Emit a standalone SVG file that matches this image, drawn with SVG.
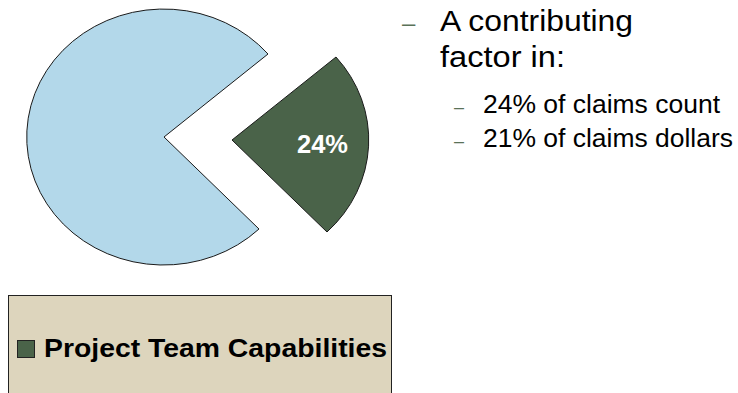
<svg xmlns="http://www.w3.org/2000/svg" width="738" height="393" viewBox="0 0 738 393">
<style>
.slice{stroke:#1a1a1a;stroke-width:1}
.t{font-family:"Liberation Sans",Arial,sans-serif;fill:#000}
.dash{font-family:"Liberation Sans",Arial,sans-serif;fill:#5a7258}
</style>
<rect width="738" height="393" fill="#fff"/>
<g id="pie">
<g id="slice-rest">
<path class="slice" d="M164,137 L268,54 A137,128 0 1,0 259,229 Z" fill="#B3D8EA"/>
</g>
<g id="slice-ptc">
<path class="slice" d="M232,140 L336,57 A137,128 0 0,1 327,232 Z" fill="#4A6349"/>
<text x="297" y="153" class="t" style="fill:#fff;font-weight:bold" font-size="25" textLength="51" lengthAdjust="spacingAndGlyphs">24%</text>
</g>
</g>
<g id="bullets">
<text x="402" y="31" class="dash" font-size="24">–</text>
<text x="440" y="31" class="t" font-size="30" textLength="193" lengthAdjust="spacingAndGlyphs">A contributing</text>
<text x="440" y="67" class="t" font-size="30" textLength="125" lengthAdjust="spacingAndGlyphs">factor in:</text>
<text x="454" y="113" class="dash" font-size="18">–</text>
<text x="483" y="113" class="t" font-size="25" textLength="237" lengthAdjust="spacingAndGlyphs">24% of claims count</text>
<text x="454" y="147" class="dash" font-size="18">–</text>
<text x="483" y="147" class="t" font-size="25" textLength="250" lengthAdjust="spacingAndGlyphs">21% of claims dollars</text>
</g>
<g id="legend">
<rect x="8.5" y="295.5" width="383" height="110" fill="#DDD5BD" stroke="#222" stroke-width="1"/>
<rect x="17.5" y="340.5" width="17" height="17" fill="#4A6349" stroke="#222" stroke-width="1"/>
<text x="44" y="357" class="t" font-size="26" font-weight="bold" textLength="343" lengthAdjust="spacingAndGlyphs">Project Team Capabilities</text>
</g>
</svg>
